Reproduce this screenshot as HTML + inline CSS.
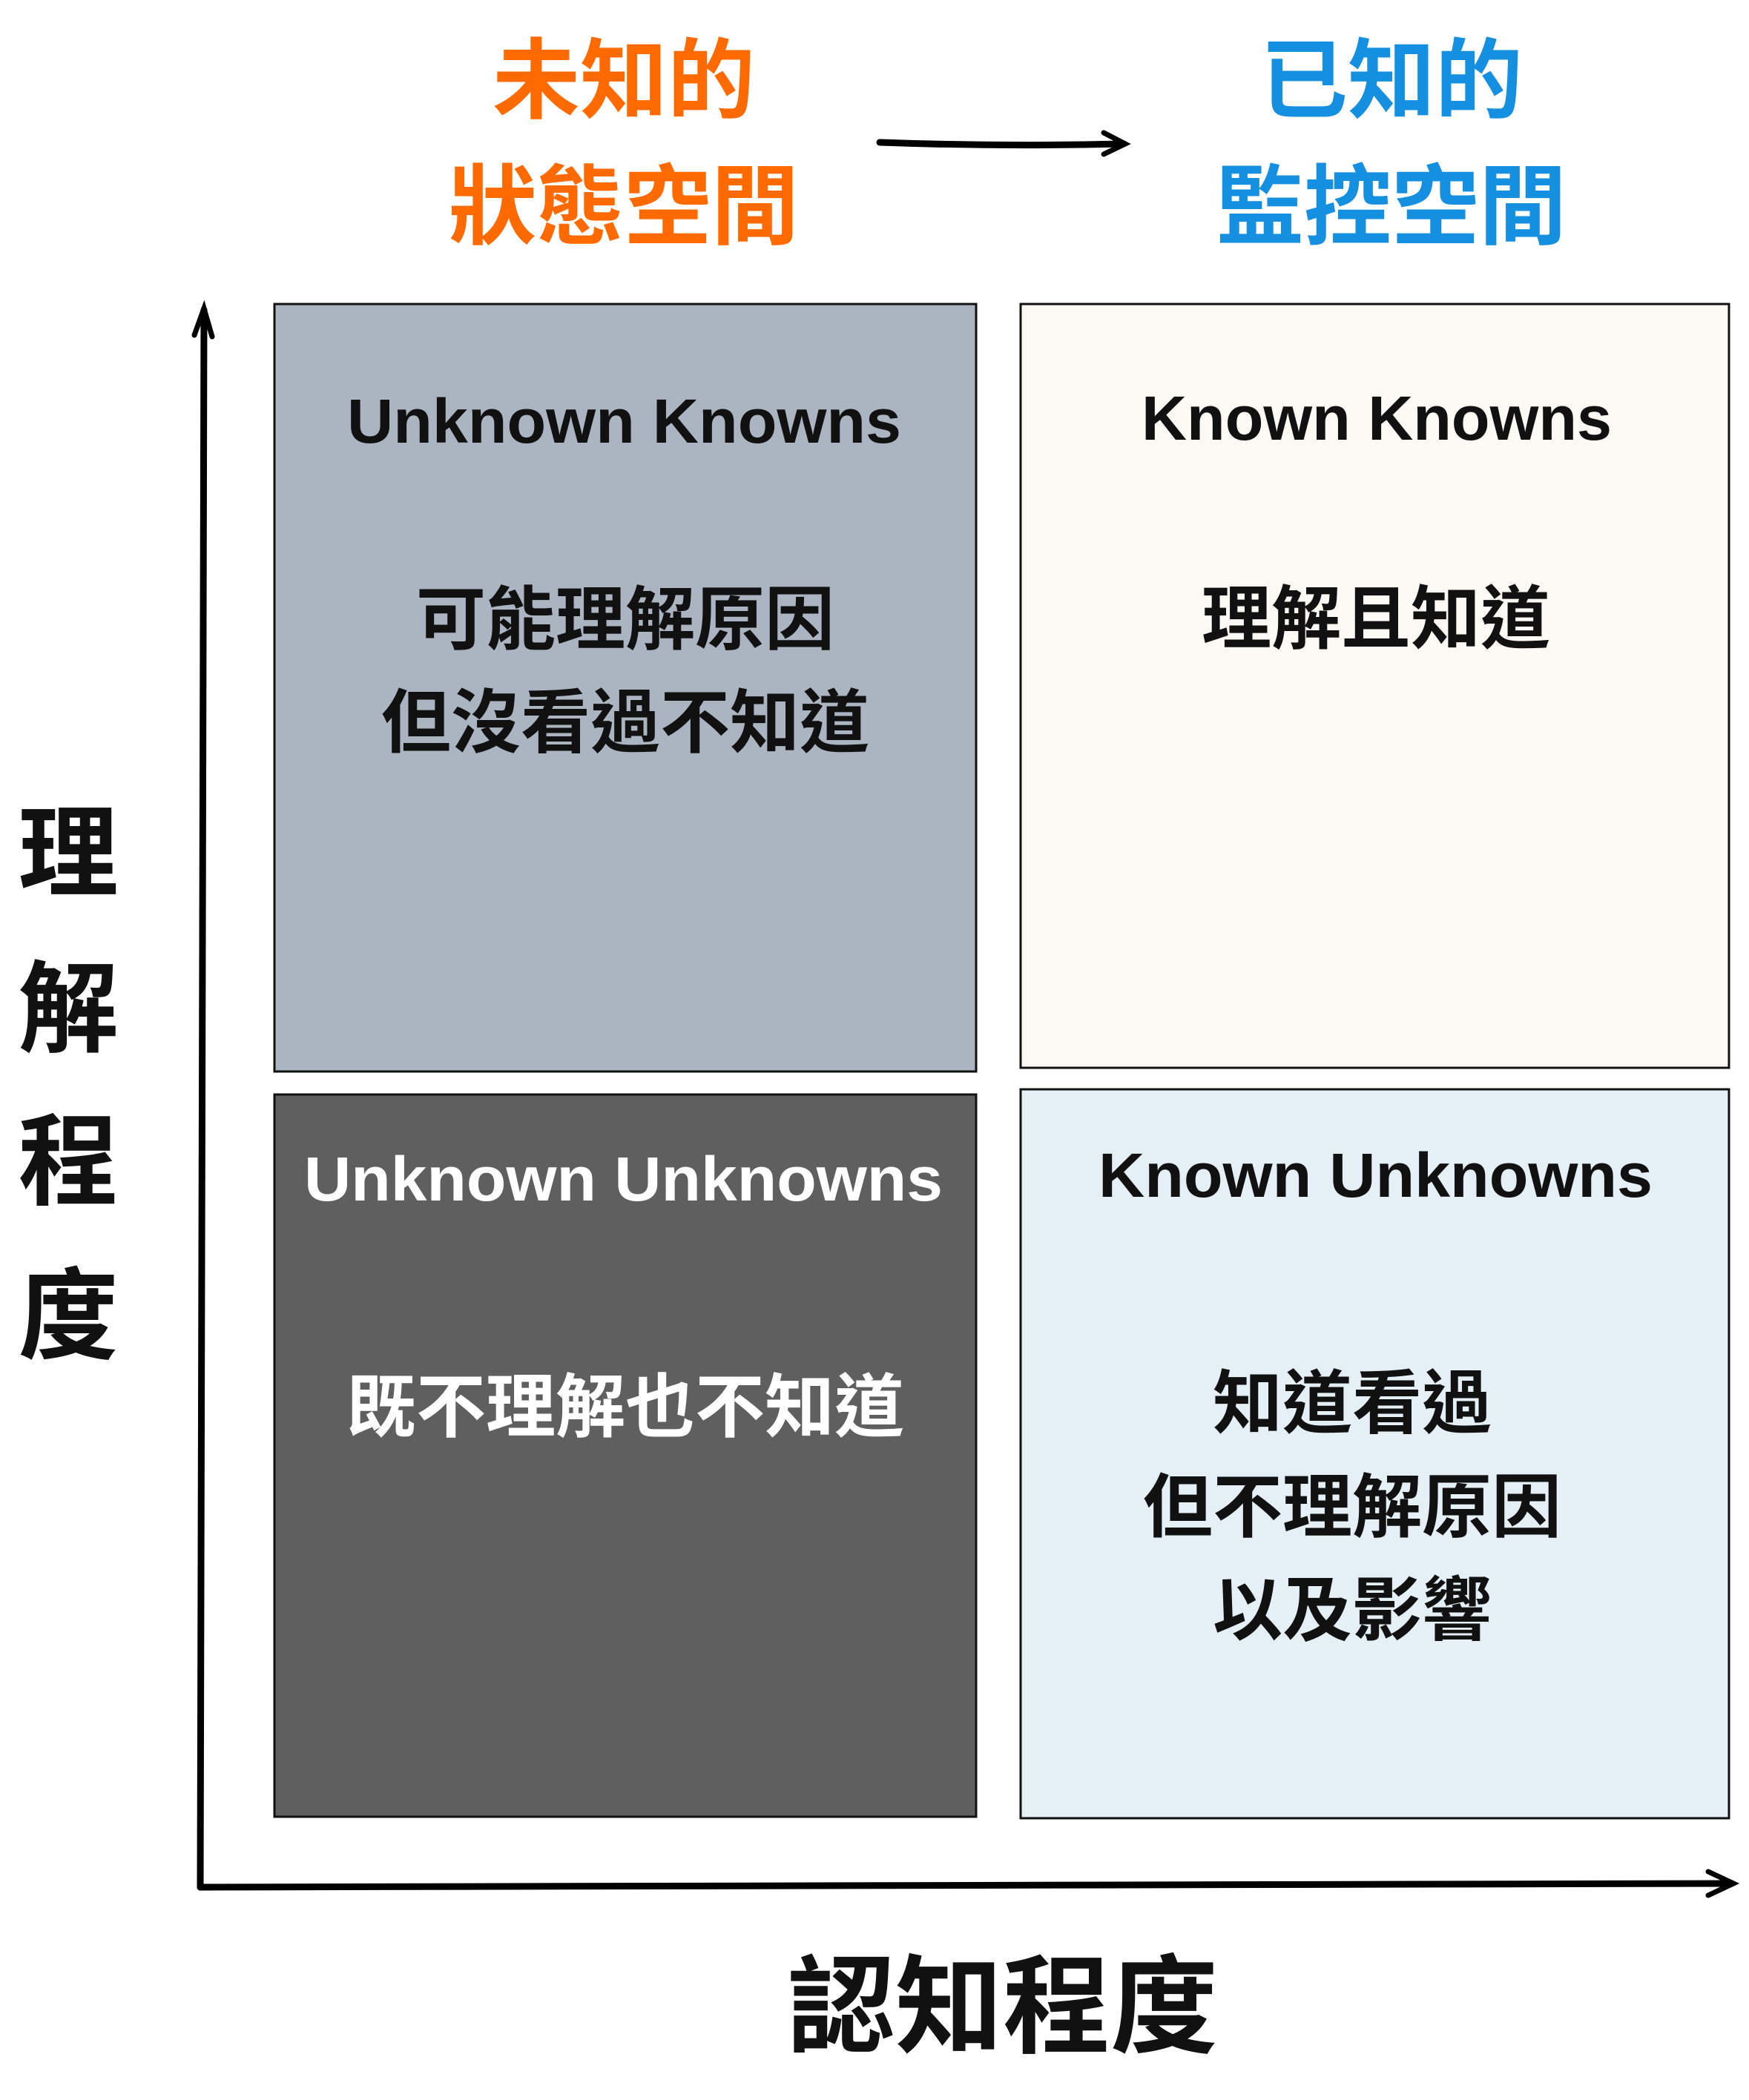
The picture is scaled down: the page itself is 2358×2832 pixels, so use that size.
<!DOCTYPE html>
<html><head><meta charset="utf-8"><style>
html,body{margin:0;padding:0;background:#fff;}
svg{display:block;}
text{font-family:"Liberation Sans","Noto Sans CJK TC",sans-serif;font-weight:bold;}
</style></head><body>
<svg width="2358" height="2832" viewBox="0 0 2358 2832" xmlns="http://www.w3.org/2000/svg">
<rect width="2358" height="2832" fill="#fff"/>
<rect x="370" y="410" width="946" height="1035" fill="#aab5c1" stroke="#111" stroke-width="3"/>
<rect x="1376" y="410" width="955" height="1030" fill="#fdfaf5" stroke="#111" stroke-width="3"/>
<rect x="370" y="1476" width="946" height="974" fill="#5f5f5f" stroke="#111" stroke-width="3"/>
<rect x="1376" y="1469" width="955" height="983" fill="#e4eff6" stroke="#111" stroke-width="3"/>
<path d="M270 2545 L275 418" stroke="#000" stroke-width="9" fill="none" stroke-linecap="round"/>
<path d="M262 452 L275 416 L286 454" stroke="#000" stroke-width="7" fill="none" stroke-linecap="round"/>
<path d="M270 2545 L2335 2540" stroke="#000" stroke-width="9" fill="none" stroke-linecap="round"/>
<path d="M2303 2524 L2337 2540 L2303 2556" stroke="#000" stroke-width="7" fill="none" stroke-linecap="round"/>
<path d="M1186 192 Q1350 198 1515 194" stroke="#000" stroke-width="9" fill="none" stroke-linecap="round"/>
<path d="M1488 179 L1517 194 L1488 208" stroke="#000" stroke-width="7" fill="none" stroke-linecap="round"/>
<g font-size="118" text-anchor="middle">
<text x="841" y="150" fill="#ff6a00">未知的</text>
<text x="841" y="320" fill="#ff6a00">狀態空間</text>
<text x="1876" y="150" fill="#1590e0">已知的</text>
<text x="1876" y="320" fill="#1590e0">監控空間</text>
</g>
<g font-size="135" text-anchor="middle" fill="#111">
<text x="92" y="1198">理</text>
<text x="92" y="1408">解</text>
<text x="92" y="1614">程</text>
<text x="92" y="1822">度</text>
<text x="1352" y="2757" font-size="145">認知程度</text>
</g>
<g font-size="84" fill="#111">
<text x="468" y="597" textLength="747" lengthAdjust="spacingAndGlyphs">Unknown Knowns</text>
<text x="1539" y="593" textLength="634" lengthAdjust="spacingAndGlyphs">Known Knowns</text>
<text x="410" y="1619" textLength="861" lengthAdjust="spacingAndGlyphs" fill="#fff">Unknown Unknowns</text>
<text x="1481" y="1614" textLength="747" lengthAdjust="spacingAndGlyphs">Known Unknowns</text>
</g>
<g font-size="94" text-anchor="middle" fill="#111">
<text x="843" y="868">可能理解原因</text>
<text x="843" y="1007">但沒看過不知道</text>
<text x="1855" y="867">理解且知道</text>
<text x="843" y="1930" fill="#fff">既不理解也不知道</text>
<text x="1823" y="1925">知道看過</text>
<text x="1823" y="2065">但不理解原因</text>
<text x="1823" y="2204">以及影響</text>
</g>
</svg>
</body></html>
